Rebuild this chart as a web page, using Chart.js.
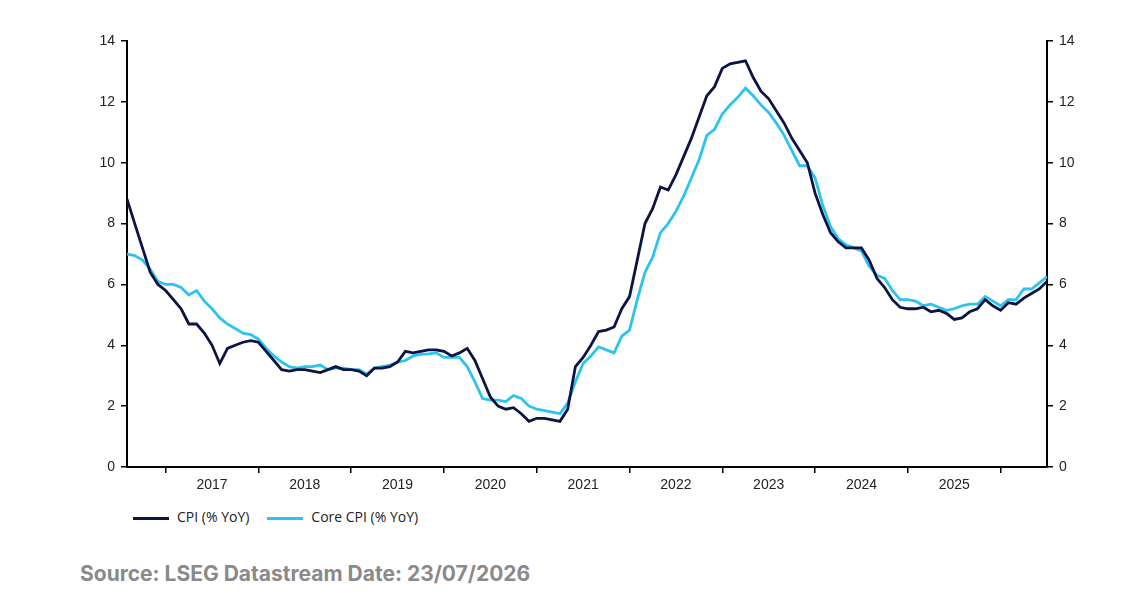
<!DOCTYPE html>
<html>
<head>
<meta charset="utf-8">
<script src="https://cdn.jsdelivr.net/npm/chart.js@4"></script>
<style>
  body { margin: 0; background: #fff; font-family: "Open Sans", Arial, sans-serif; }
  #wrap { position: relative; width: 1143px; height: 500px; }
  .legend { position: absolute; top: 507px; left: 133px; font-size: 14px; color: #222; display: flex; gap: 18px; }
  .legend span.sw { display: inline-block; width: 36px; height: 3px; vertical-align: middle; margin-right: 8px; }
  .source { position: absolute; top: 561px; left: 80px; font-size: 21px; font-weight: bold; color: #8a8a8a; font-family: Inter, "Open Sans", sans-serif; }
</style>
</head>
<body>
<div id="wrap"><canvas id="c" width="1143" height="500"></canvas></div>
<div class="legend">
  <div><span class="sw" style="background:#0b1443"></span>CPI (% YoY)</div>
  <div><span class="sw" style="background:#2cc3f0"></span>Core CPI (% YoY)</div>
</div>
<div class="source">Source: LSEG Datastream Date: 23/07/2026</div>
<script>
// Monthly, Aug 2016 .. Jul 2026 (index 0 = Aug 2016)
const years = [2017, 2018, 2019, 2020, 2021, 2022, 2023, 2024, 2025];
const yTicks = [0, 2, 4, 6, 8, 10, 12, 14];

const cpi = [8.8, 8.0, 7.2, 6.4, 6.0, 5.8, 5.5, 5.2, 4.7, 4.7, 4.4, 4.0, 3.4, 3.9, 4.0, 4.1, 4.15, 4.1, 3.8, 3.5,
  3.2, 3.15, 3.2, 3.2, 3.15, 3.1, 3.2, 3.3, 3.2, 3.2, 3.15, 3.0, 3.25, 3.25, 3.3, 3.45, 3.8, 3.75, 3.8, 3.85,
  3.85, 3.8, 3.65, 3.75, 3.9, 3.5, 2.9, 2.3, 2.0, 1.9, 1.95, 1.75, 1.5, 1.6, 1.6, 1.55, 1.5, 1.9, 3.3, 3.6,
  4.0, 4.45, 4.5, 4.6, 5.2, 5.6, 6.8, 8.0, 8.5, 9.2, 9.1, 9.6, 10.2, 10.8, 11.5, 12.2, 12.5, 13.1, 13.25, 13.3,
  13.35, 12.8, 12.35, 12.1, 11.7, 11.3, 10.8, 10.4, 10.0, 9.0, 8.3, 7.7, 7.4, 7.2, 7.2, 7.2, 6.8, 6.2, 5.9, 5.5,
  5.25, 5.2, 5.2, 5.25, 5.1, 5.15, 5.05, 4.85, 4.9, 5.1, 5.2, 5.5, 5.3, 5.15, 5.4, 5.35, 5.55, 5.7, 5.85, 6.1];

const coreCpi = [7.0, 6.95, 6.8, 6.5, 6.1, 6.0, 6.0, 5.9, 5.65, 5.8, 5.45, 5.2, 4.9, 4.7, 4.55, 4.4, 4.35, 4.2, 3.9, 3.65,
  3.45, 3.3, 3.25, 3.3, 3.3, 3.35, 3.2, 3.25, 3.25, 3.2, 3.2, 3.05, 3.25, 3.3, 3.35, 3.45, 3.5, 3.65, 3.7, 3.72,
  3.75, 3.6, 3.6, 3.6, 3.3, 2.8, 2.25, 2.2, 2.2, 2.15, 2.35, 2.25, 2.0, 1.9, 1.85, 1.8, 1.75, 2.1, 2.8, 3.4,
  3.65, 3.95, 3.85, 3.75, 4.3, 4.5, 5.5, 6.4, 6.9, 7.7, 8.0, 8.4, 8.9, 9.5, 10.1, 10.9, 11.1, 11.6, 11.9, 12.15,
  12.45, 12.2, 11.9, 11.65, 11.3, 10.9, 10.4, 9.9, 9.9, 9.5, 8.6, 7.9, 7.5, 7.3, 7.2, 7.1, 6.6, 6.3, 6.2, 5.8,
  5.5, 5.5, 5.45, 5.3, 5.35, 5.25, 5.15, 5.2, 5.3, 5.35, 5.35, 5.6, 5.45, 5.3, 5.5, 5.5, 5.85, 5.85, 6.05, 6.25];

const toPoints = arr => arr.map((v, i) => ({ x: i, y: v }));

// Jan of each year is a boundary tick; mid-year carries the label
const jan = y => (y - 2017) * 12 + 5;
const xTickVals = [];
years.forEach(y => { xTickVals.push(jan(y)); xTickVals.push(jan(y) + 6); });
xTickVals.push(jan(2026));

const axisFont = { family: 'Arial, "Liberation Sans", sans-serif', size: 14 };

function yAxis(position, width) {
    return {
        type: 'linear', position: position, min: 0, max: 14,
        afterBuildTicks: s => { s.ticks = yTicks.map(v => ({ value: v })); },
        afterFit: s => { s.width = width; },
        grid: { drawOnChartArea: false, tickLength: 6, color: '#000', lineWidth: 1.5 },
        border: { color: '#000', width: 2 },
        ticks: { color: '#222', font: axisFont, padding: 6 }
    };
}

new Chart(document.getElementById('c'), {
    type: 'line',
    data: {
        datasets: [
            { label: 'CPI (% YoY)', data: toPoints(cpi), borderColor: '#0b1443', borderWidth: 2.8, pointRadius: 0, tension: 0, order: 1 },
            { label: 'Core CPI (% YoY)', data: toPoints(coreCpi), borderColor: '#2cc3f0', borderWidth: 2.8, pointRadius: 0, tension: 0, order: 2 }
        ]
    },
    options: {
        responsive: false,
        animation: false,
        layout: { padding: { top: 41, left: 0, right: 0, bottom: 0 } },
        plugins: { legend: { display: false }, tooltip: { enabled: false } },
        scales: {
            x: {
                type: 'linear', min: 0, max: 119,
                afterBuildTicks: s => { s.ticks = xTickVals.map(v => ({ value: v })); },
                afterFit: s => { s.height = 33; },
                grid: {
                    drawOnChartArea: false, tickLength: 6, lineWidth: 1.5,
                    color: c => ((c.tick && (c.tick.value - 5) % 12 === 0) ? '#000' : 'rgba(0,0,0,0)')
                },
                border: { color: '#000', width: 2 },
                ticks: {
                    color: '#222', font: axisFont, padding: 4, maxRotation: 0, autoSkip: false,
                    callback: v => ((v - 5) % 12 === 6 ? String(2017 + (v - 11) / 12) : '')
                }
            },
            y: yAxis('left', 127),
            y2: yAxis('right', 96)
        }
    }
});
</script>
</body>
</html>
